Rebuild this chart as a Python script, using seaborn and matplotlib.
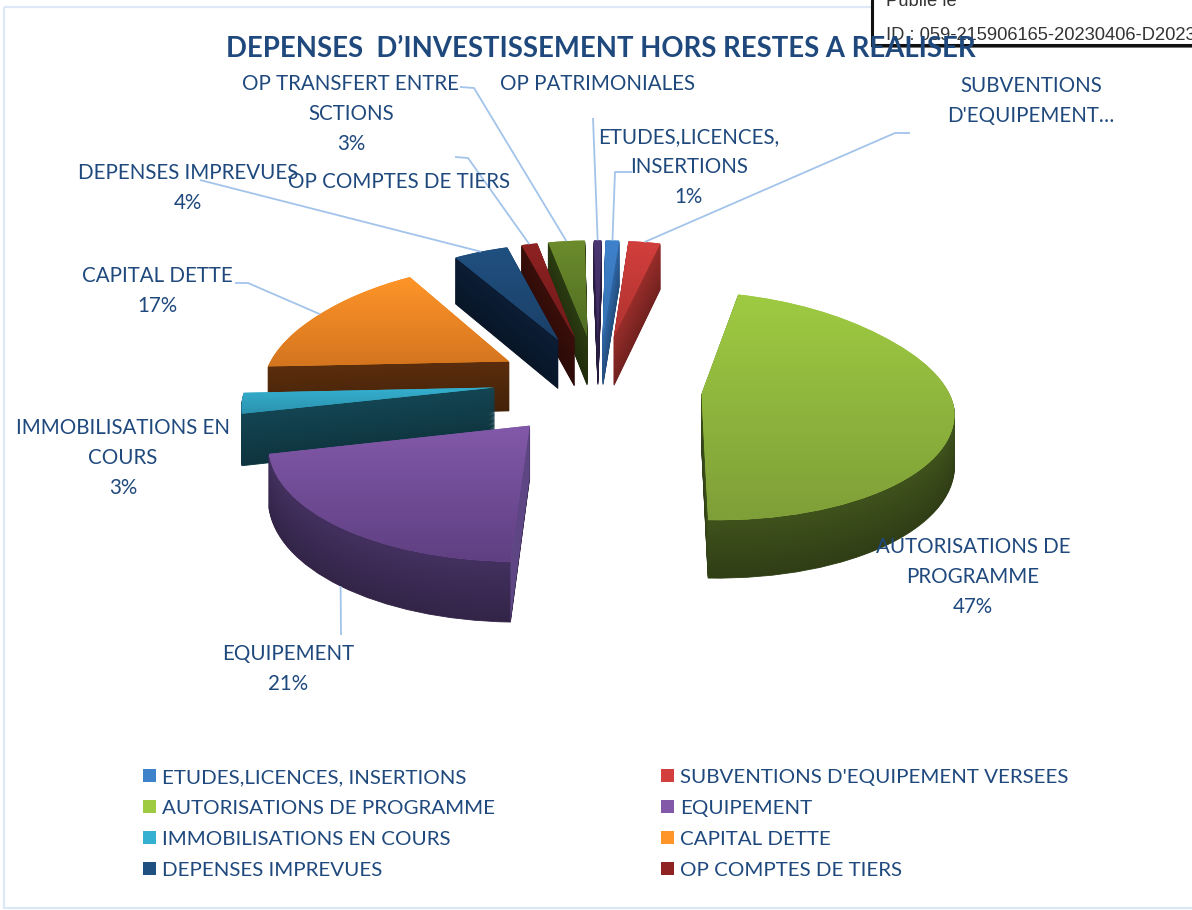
import numpy as np
import matplotlib
matplotlib.use("Agg")
import matplotlib.pyplot as plt
from matplotlib.colors import to_rgb
from matplotlib.patches import Polygon, Rectangle
from matplotlib.transforms import Transform
import seaborn as sns

categories = ["ETUDES,LICENCES, INSERTIONS", "SUBVENTIONS D'EQUIPEMENT VERSEES",
              "AUTORISATIONS DE PROGRAMME", "EQUIPEMENT", "IMMOBILISATIONS EN COURS",
              "CAPITAL DETTE", "DEPENSES IMPREVUES", "OP COMPTES DE TIERS",
              "OP TRANSFERT ENTRE SCTIONS", "OP PATRIMONIALES"]
values = [1.1, 2.6, 47, 21, 3, 17, 4.4, 1.3, 3, 0.6]
label_text = ["ETUDES,LICENCES,\nINSERTIONS", "SUBVENTIONS\nD'EQUIPEMENT…",
              "AUTORISATIONS DE\nPROGRAMME", "EQUIPEMENT", "IMMOBILISATIONS EN\nCOURS",
              "CAPITAL DETTE", "DEPENSES IMPREVUES", "OP COMPTES DE TIERS",
              "OP TRANSFERT ENTRE\nSCTIONS", "OP PATRIMONIALES"]
show_pct = [True, False, True, True, True, True, True, False, True, False]
title = "DEPENSES  D’INVESTISSEMENT HORS RESTES A REALISER"
stamp_lines = ["Publié le", "ID : 059-215906165-20230406-D2023"]

# colours: light / dark of the top face, then the extruded side
top_light = ["#3f82cc", "#d23f3c", "#9ecb42", "#8259a9", "#35b0d0", "#ff9529", "#205080", "#8f2222", "#6c8c2c", "#4c3772"]
top_dark = ["#3570b0", "#b03330", "#7f9f38", "#5f3f82", "#2b92ae", "#d4751f", "#1b4068", "#701a1a", "#4f6c22", "#3c2a5c"]
side_color = ["#2f66a5", "#982d2a", "#3f521c", "#43305f", "#134553", "#5a2d0c", "#0b1d35", "#3a0e0a", "#2b3c11", "#30224c"]
text_blue = "#1f497d"
leader_blue = "#a3c4ea"

# layout (reference pixels)
W, H = 1192, 910
CX, CY, RX, RY = 598, 392, 247, 109
EXPLODE = 0.42
DEPTH = 0.46
draw_rank = [4, 5, 9, 8, 7, 6, 3, 2, 1, 0]  # back to front order of the slices
slice_lift = [0.11, 0.11, 0.04, 0.03, 0.10, 0.09, 0.11, 0.11, 0.11, 0.11]
label_pos = [(689, 167), (1031, 101), (973, 577), (288, 669), (123, 458),
             (157, 291), (188, 188), (399, 182), (351, 114), (598, 84)]
# elbow points of the leader lines, None = no leader
elbows = [[(632, 172), (615, 172)], [(910, 133), (895, 133)], None, [(341, 635)], None,
          [(235, 283), (248, 283)], [(200, 180)], [(455, 157), (468, 158)],
          [(460, 87), (474, 88)], [(593, 118)]]


class Tilt(Transform):
    # flat pie plane seen from above, near side a bit larger, z = drop below the top face
    input_dims = output_dims = 2
    is_separable = False

    def __init__(self, z=0.0):
        super().__init__()
        self.z = z

    def transform_non_affine(self, xy):
        xy = np.asarray(xy, dtype=float)
        y = xy[:, 1]
        dx = np.where(y > 0, 1 + 0.18 * y, 1 + 0.127 * y)
        dy = np.where(y > 0, 1 + 0.07 * y, 1 + 0.127 * y)
        return np.column_stack([xy[:, 0] / dx, (y - self.z) / dy])


sns.set_theme(style="white")
plt.rcParams["font.family"] = ["Lato", "DejaVu Sans"]
fig = plt.figure(figsize=(W / 100, H / 100), dpi=100, facecolor="white")

ax = fig.add_axes([0, 0, 1, 1])
xlim = (-CX / RX, (W - CX) / RX)
ylim = ((CY - H) / RY, CY / RY)


def pie_layer(z):
    wedges, _ = ax.pie(values, explode=[EXPLODE] * len(values), startangle=89, counterclock=False,
                       wedgeprops={"linewidth": 0})
    for i, w in enumerate(wedges):
        w.set_transform(Tilt(z - slice_lift[i]) + ax.transData)
    return wedges


for z in np.linspace(DEPTH, 0.01, 60):
    for i, w in enumerate(pie_layer(z)):
        shade = 1 - 0.25 * z / DEPTH
        col = tuple(c * shade for c in to_rgb(side_color[i]))
        w.set_facecolor(col)
        w.set_edgecolor(col)
        w.set_linewidth(0.6)
        w.set_zorder(10 * draw_rank[i] + 1)

top_wedges = pie_layer(0.0)
ax.set_aspect("auto")
ax.set_xlim(xlim)
ax.set_ylim(ylim)
ax.axis("off")

for i, w in enumerate(top_wedges):
    w.set_facecolor(top_light[i])
    w.set_zorder(10 * draw_rank[i] + 2)
    box = w.get_path().get_extents(w.get_patch_transform() + Tilt(-slice_lift[i]))
    ramp = np.linspace(to_rgb(top_light[i]), to_rgb(top_dark[i]), 128)[:, None, :]
    im = ax.imshow(ramp, extent=(box.x0, box.x1, box.y0, box.y1), aspect="auto", origin="upper",
                   zorder=10 * draw_rank[i] + 3, interpolation="bilinear")
    im.set_clip_path(w)
ax.set_aspect("auto")
ax.set_xlim(xlim)
ax.set_ylim(ylim)

# the radial wall of EQUIPEMENT catches the light
eq = top_wedges[3]
edge = np.deg2rad(eq.theta2)
apex = np.array(eq.center)
rim = apex + eq.r * np.array([np.cos(edge), np.sin(edge)])
pts = np.array([apex, rim, rim, apex])
wall = np.vstack([Tilt(-slice_lift[3] + (DEPTH if k > 1 else 0)).transform_non_affine(pts[[k]]) for k in range(4)])
ax.add_patch(Polygon(wall, closed=True, fc="#5e4684", ec="none", zorder=10 * draw_rank[3] + 1.5))

legend_order = [0, 2, 4, 6, 1, 3, 5, 7]
leg = ax.legend([top_wedges[i] for i in legend_order], [categories[i] for i in legend_order],
                ncol=2, frameon=False, fontsize=14.75, labelcolor=text_blue, handlelength=0.63,
                handleheight=0.63, handletextpad=0.29, labelspacing=0.68, columnspacing=8.13,
                loc="upper left", bbox_to_anchor=(143 / W, 1 - 769 / H), borderpad=0, borderaxespad=0)
leg.set_zorder(200)

# overlay in reference pixels for the frame, stamp, leaders and labels
over = fig.add_axes([0, 0, 1, 1], facecolor="none", zorder=5)
over.set_xlim(0, W)
over.set_ylim(H, 0)
over.axis("off")
over.add_patch(Rectangle((4, 7), W, H - 9, fill=False, ec="#dce8f5", lw=1.6))

over.add_patch(Rectangle((872, -10), W, 58, fc="#777777", ec="none"))
over.add_patch(Rectangle((872, -10), W, 55, fc="white", ec="#111111", lw=2.2))
over.text(886, 1, stamp_lines[0], fontsize=13.2, family="Liberation Sans", color="#333333", va="center")
over.text(886, 35, stamp_lines[1], fontsize=13.2, family="Liberation Sans", color="#333333", va="center", clip_on=True)
over.text(601, 49, title, fontsize=19.8, fontweight="bold", color=text_blue, ha="center", va="center")

fig.canvas.draw()
to_px = ax.transData
for i, w in enumerate(top_wedges):
    text = label_text[i]
    if show_pct[i]:
        text += f"\n{round(values[i])}%"
    over.text(*label_pos[i], text, fontsize=14.8, color=text_blue, ha="center", va="center", linespacing=1.6)
    if elbows[i] is None:
        continue
    # leader ends on the arc of the slice, at its middle angle
    mid = np.deg2rad((w.theta1 + w.theta2) / 2)
    cx, cy = w.center
    z = DEPTH if i == 3 else 0.0
    pt = Tilt(z - slice_lift[i]).transform_non_affine(np.array([[cx + w.r * np.cos(mid), cy + w.r * np.sin(mid)]]))
    px = to_px.transform(pt)[0]
    xs = [p[0] for p in elbows[i]] + [px[0]]
    ys = [p[1] for p in elbows[i]] + [H - px[1]]
    over.plot(xs, ys, color=leader_blue, lw=1.3, solid_capstyle="butt")

fig.savefig("out.png", dpi=100)
